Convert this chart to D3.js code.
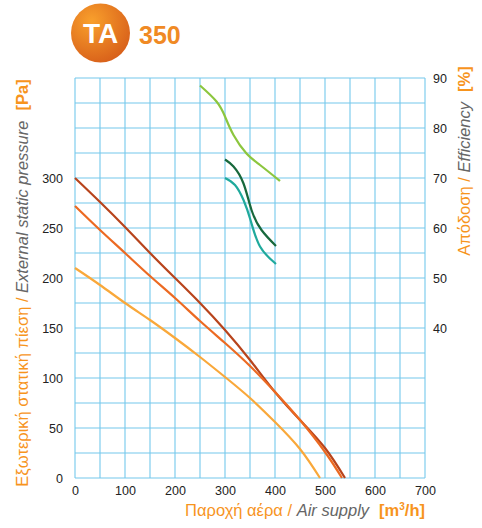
<!DOCTYPE html>
<html><head><meta charset="utf-8">
<script src="https://cdn.jsdelivr.net/npm/d3@7"></script>
<style>body{margin:0;background:#fff}svg{display:block;font-family:"Liberation Sans",Arial,sans-serif}</style>
</head><body>
<script>
// Data
const pressureSeries = [
  {name:"high", color:"#b8441c", pts:[[0,300],[50,276],[100,251],[150,225],[200,200],[250,175],[300,148],[350,118],[400,86],[450,58],[500,30],[540,0]]},
  {name:"mid", color:"#ec6a22", pts:[[0,272],[50,248],[100,225],[150,202],[200,180],[250,157],[300,135],[350,112],[400,86],[450,58],[500,26],[534,0]]},
  {name:"low", color:"#f9a83a", pts:[[0,210],[50,193],[100,175],[150,158],[200,140],[250,121],[300,101],[350,80],[400,56],[450,29],[490,0]]}
];
const effSeries = [
  {name:"effHigh", color:"#8cc63e", pts:[[250,88.5],[283,85.3],[300,82.3],[317,78.6],[343,74.9],[370,72.6],[410,69.4]]},
  {name:"effMid", color:"#17683c", pts:[[300,73.7],[317,72.3],[337,68.9],[353,63.6],[373,59.6],[402,56.4]]},
  {name:"effLow", color:"#1fa99c", pts:[[300,70],[320,68.6],[337,65.6],[351,61.6],[370,56.3],[402,52.8]]}
];
const xTicks = [0,100,200,300,400,500,600,700];
const yTicks = [0,50,100,150,200,250,300];
const rTicks = [40,50,60,70,80,90];

const W=482,H=528;
const svg=d3.select("body").append("svg").attr("width",W).attr("height",H);
const x=d3.scaleLinear().domain([0,700]).range([75,425]);
const y=d3.scaleLinear().domain([0,400]).range([478,78]);
const yr=d3.scaleLinear().domain([10,90]).range([478,78]);
const grid="#74c8ec";

// grid
const g=svg.append("g");
g.selectAll("line.v").data(d3.range(0,701,50)).join("line")
  .attr("x1",d=>x(d)).attr("x2",d=>x(d)).attr("y1",y(0)).attr("y2",y(400))
  .attr("stroke",grid).attr("stroke-width",1.1);
g.selectAll("line.h").data(d3.range(0,401,25)).join("line")
  .attr("y1",d=>y(d)).attr("y2",d=>y(d)).attr("x1",x(0)).attr("x2",x(700))
  .attr("stroke",grid).attr("stroke-width",1.1);

// axes (text only)
const tc="#222";
const fam="Liberation Sans, Arial";
svg.append("g").attr("transform",`translate(${x(0)},0)`)
  .call(d3.axisLeft(y).tickValues(yTicks).tickSize(0).tickPadding(12))
  .call(a=>a.select(".domain").remove())
  .call(a=>a.selectAll("text").attr("font-size",12.5).attr("fill",tc).attr("font-family",fam));
svg.append("g").attr("transform",`translate(0,${y(0)})`)
  .call(d3.axisBottom(x).tickValues(xTicks).tickSize(0).tickPadding(8))
  .call(a=>a.select(".domain").remove())
  .call(a=>a.selectAll("text").attr("font-size",12.5).attr("fill",tc).attr("font-family",fam));
svg.append("g").attr("transform",`translate(${x(700)},0)`)
  .call(d3.axisRight(yr).tickValues(rTicks).tickSize(0).tickPadding(8))
  .call(a=>a.select(".domain").remove())
  .call(a=>a.selectAll("text").attr("font-size",12.5).attr("fill",tc).attr("font-family",fam));

// curves
const lineP=d3.line().x(d=>x(d[0])).y(d=>y(d[1])).curve(d3.curveNatural);
const lineE=d3.line().x(d=>x(d[0])).y(d=>yr(d[1])).curve(d3.curveNatural);
svg.selectAll("path.p").data(pressureSeries).join("path")
  .attr("d",d=>lineP(d.pts)).attr("fill","none").attr("stroke",d=>d.color).attr("stroke-width",2.2);
svg.selectAll("path.e").data(effSeries).join("path")
  .attr("d",d=>lineE(d.pts)).attr("fill","none").attr("stroke",d=>d.color).attr("stroke-width",2.2);

// badge
const defs=svg.append("defs");
const rg=defs.append("radialGradient").attr("id","bg").attr("cx","35%").attr("cy","30%").attr("r","75%");
rg.append("stop").attr("offset","0%").attr("stop-color","#f9a02c");
rg.append("stop").attr("offset","100%").attr("stop-color","#d8601a");
svg.append("circle").attr("cx",100.5).attr("cy",33).attr("r",29.5).attr("fill","url(#bg)");
svg.append("text").attr("x",100.5).attr("y",43).attr("text-anchor","middle").attr("fill","#fff")
  .attr("font-size",28).attr("font-weight","bold").text("TA");
svg.append("text").attr("x",139).attr("y",44).attr("fill","#f08a24")
  .attr("font-size",25).attr("font-weight","bold").text("350");

// titles
const orange="#f7941d", grey="#666";
const yt=svg.append("text").attr("transform",`translate(28,${(480+86)/2}) rotate(-90)`)
  .attr("text-anchor","middle").attr("font-size",16.5);
yt.append("tspan").attr("fill",orange).text("Εξωτερική στατική πίεση / ");
yt.append("tspan").attr("fill",grey).attr("font-style","italic").text("External static pressure");
yt.append("tspan").attr("fill",orange).attr("font-weight","bold").attr("dx",10).text("[Pa]");

const rt=svg.append("text").attr("transform",`translate(470,${(70+252)/2}) rotate(-90)`)
  .attr("text-anchor","middle").attr("font-size",16.5);
rt.append("tspan").attr("fill",orange).text("Απόδοση / ");
rt.append("tspan").attr("fill",grey).attr("font-style","italic").text("Efficiency");
rt.append("tspan").attr("fill",orange).attr("font-weight","bold").attr("dx",10).text("[%]");

const xt=svg.append("text").attr("x",425).attr("y",516).attr("text-anchor","end").attr("font-size",16.5);
xt.append("tspan").attr("fill",orange).text("Παροχή αέρα / ");
xt.append("tspan").attr("fill",grey).attr("font-style","italic").text("Air supply");
xt.append("tspan").attr("fill",orange).attr("font-weight","bold").attr("dx",10).text("[m");
xt.append("tspan").attr("fill",orange).attr("font-weight","bold").attr("font-size",10).attr("dy",-6).text("3");
xt.append("tspan").attr("fill",orange).attr("font-weight","bold").attr("dy",6).text("/h]");
</script>
</body></html>
